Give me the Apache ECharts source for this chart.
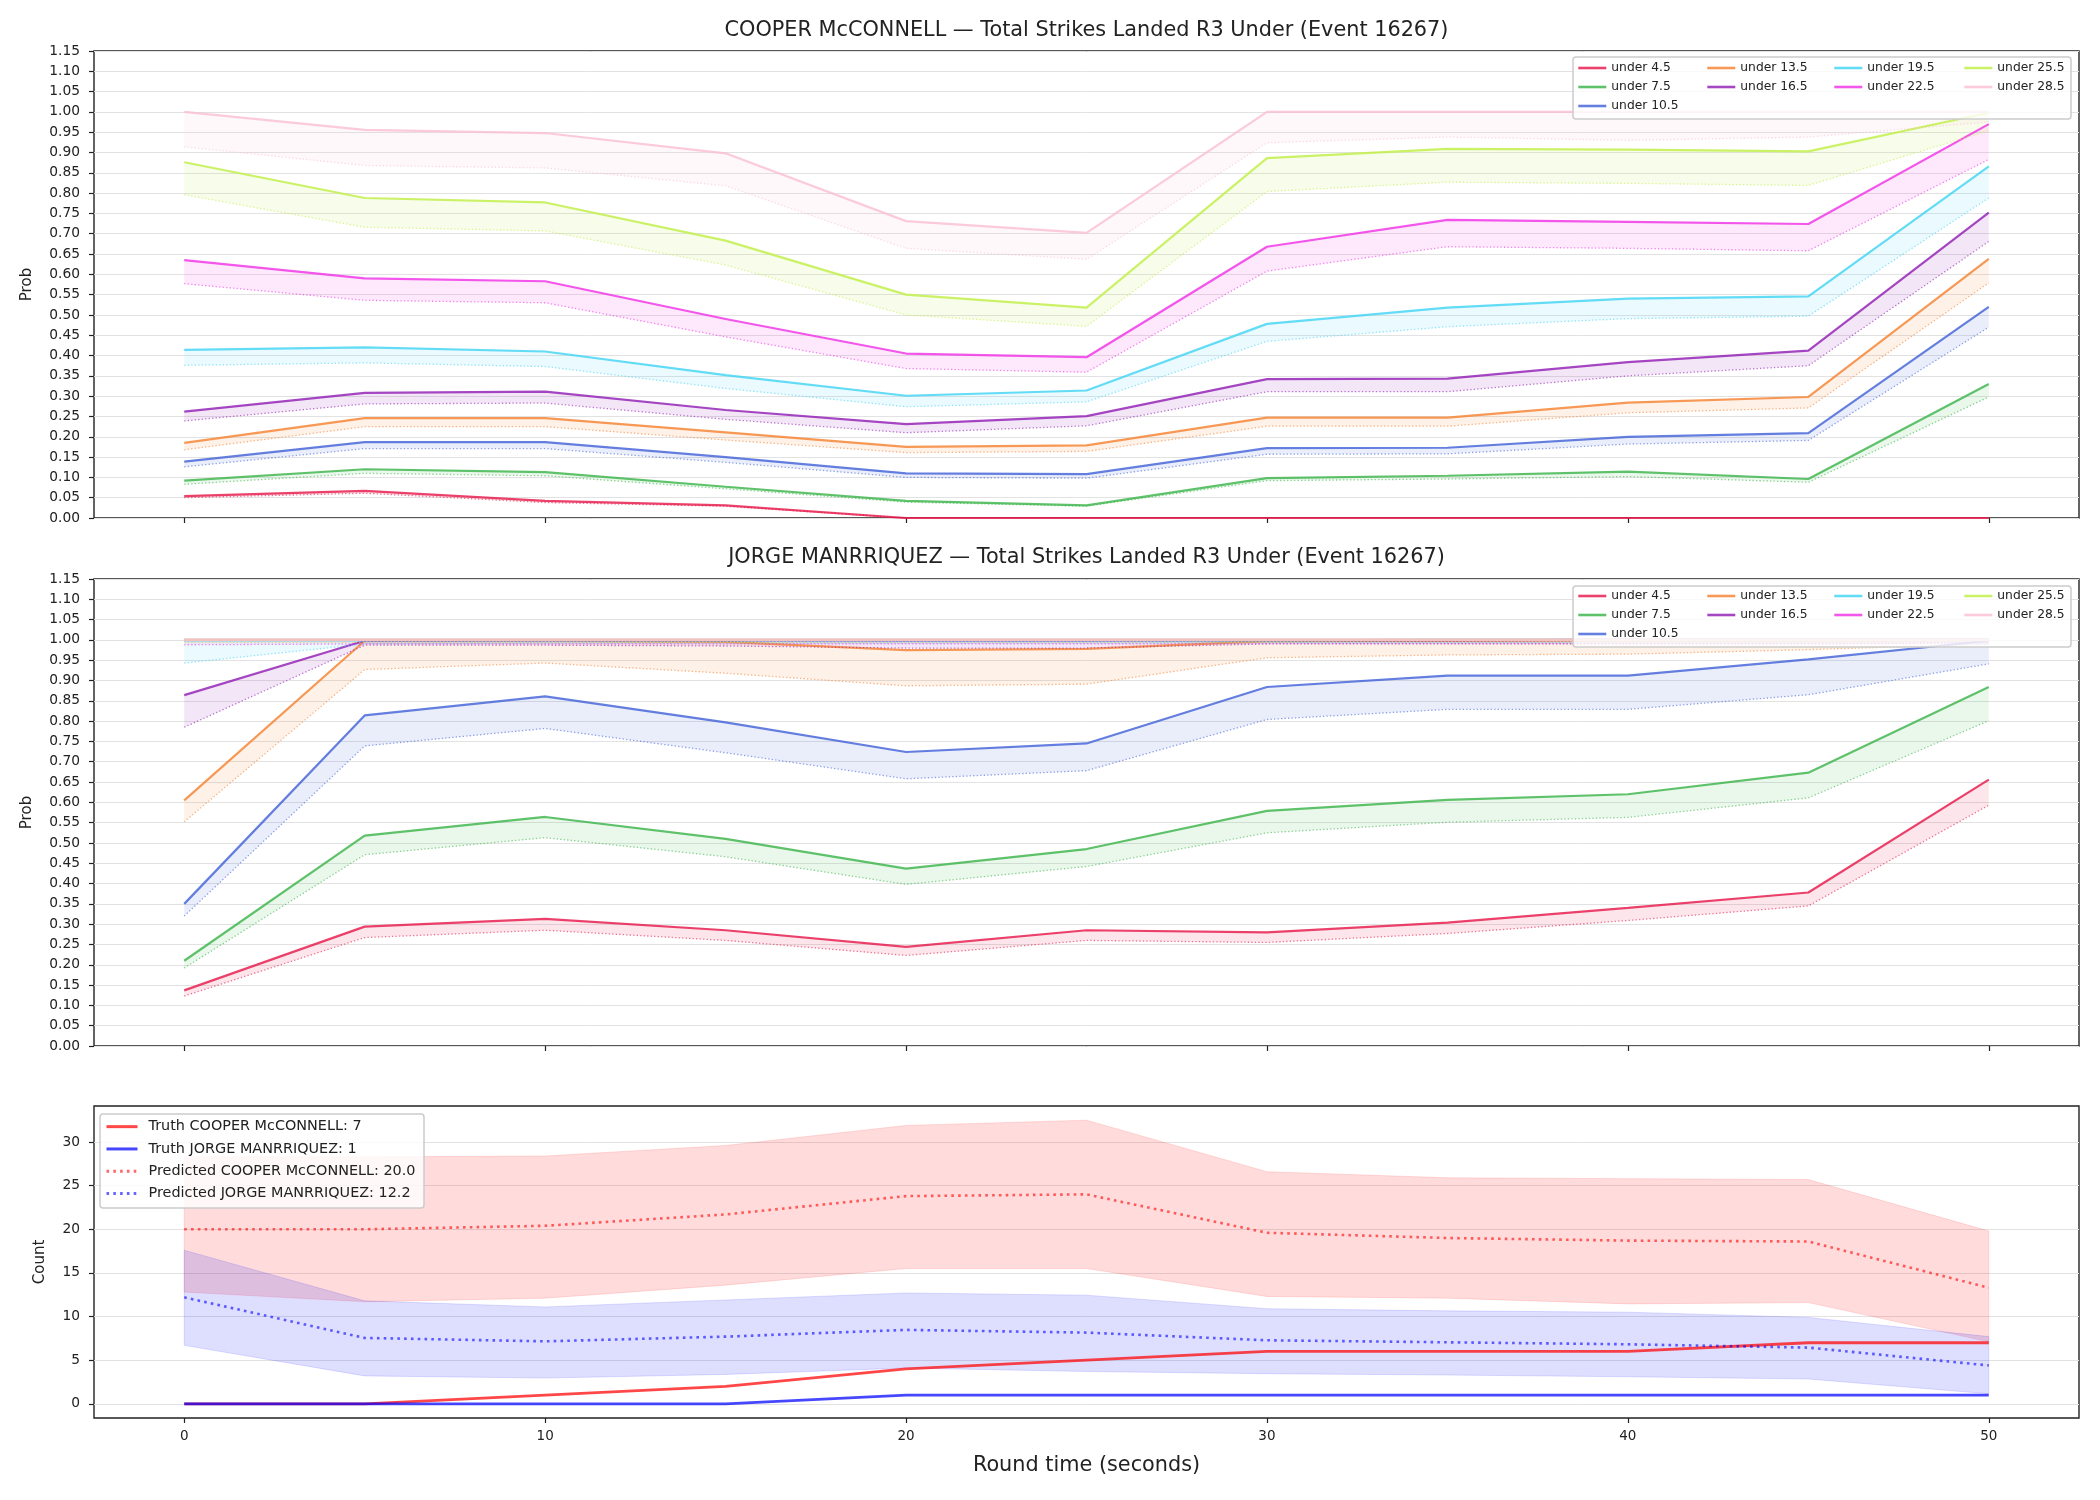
<!DOCTYPE html>
<html>
<head>
<meta charset="utf-8">
<title>Total Strikes Landed R3 Under</title>
<script src="https://cdn.jsdelivr.net/npm/echarts@6.0.0/dist/echarts.min.js"></script>
<style>
    html, body { margin: 0; padding: 0; background: #fff; }
    #chart { width: 2100px; height: 1500px; }
</style>
</head>
<body>
<div id="chart"></div>
<script>
// round time (seconds)
var xs = [0, 5, 10, 15, 20, 25, 30, 35, 40, 45, 50];
var lines = ['under 4.5', 'under 7.5', 'under 10.5', 'under 13.5', 'under 16.5',
    'under 19.5', 'under 22.5', 'under 25.5', 'under 28.5'];
var colors = ['#e6194B', '#3cb44b', '#4363d8', '#f58231', '#911eb4',
    '#42d4f4', '#f032e6', '#bfef45', '#fabed4'];

// COOPER McCONNELL - solid and dotted lines, one row per line
var cooperSolid = [
    [0.054, 0.067, 0.042, 0.031, 0, 0, 0, 0, 0, 0, 0],
    [0.092, 0.120, 0.113, 0.077, 0.042, 0.031, 0.098, 0.104, 0.114, 0.096, 0.330],
    [0.139, 0.187, 0.187, 0.150, 0.110, 0.108, 0.172, 0.173, 0.200, 0.209, 0.520],
    [0.185, 0.246, 0.246, 0.211, 0.175, 0.179, 0.247, 0.247, 0.284, 0.298, 0.638],
    [0.262, 0.308, 0.311, 0.266, 0.231, 0.251, 0.342, 0.343, 0.384, 0.412, 0.752],
    [0.414, 0.420, 0.410, 0.352, 0.301, 0.314, 0.478, 0.518, 0.540, 0.546, 0.866],
    [0.635, 0.590, 0.583, 0.490, 0.405, 0.396, 0.668, 0.734, 0.729, 0.724, 0.970],
    [0.876, 0.788, 0.777, 0.683, 0.550, 0.518, 0.886, 0.909, 0.907, 0.903, 0.998],
    [1.000, 0.956, 0.948, 0.898, 0.731, 0.702, 1.000, 1.000, 1.000, 1.000, 1.000]
];
var cooperDotted = [
    [0.050, 0.061, 0.038, 0.029, 0, 0, 0, 0, 0, 0, 0],
    [0.083, 0.110, 0.104, 0.072, 0.039, 0.029, 0.092, 0.096, 0.102, 0.088, 0.298],
    [0.126, 0.171, 0.171, 0.137, 0.100, 0.098, 0.157, 0.158, 0.182, 0.191, 0.470],
    [0.168, 0.225, 0.225, 0.192, 0.161, 0.164, 0.226, 0.226, 0.259, 0.271, 0.579],
    [0.239, 0.281, 0.283, 0.243, 0.210, 0.227, 0.311, 0.311, 0.350, 0.375, 0.681],
    [0.376, 0.382, 0.373, 0.319, 0.274, 0.286, 0.435, 0.471, 0.491, 0.497, 0.788],
    [0.577, 0.536, 0.530, 0.446, 0.368, 0.359, 0.608, 0.668, 0.664, 0.658, 0.883],
    [0.796, 0.716, 0.707, 0.623, 0.500, 0.472, 0.804, 0.827, 0.824, 0.819, 0.954],
    [0.914, 0.868, 0.862, 0.818, 0.664, 0.637, 0.924, 0.938, 0.930, 0.938, 0.975]
];

// JORGE MANRRIQUEZ
var jorgeSolid = [
    [0.137, 0.294, 0.313, 0.285, 0.244, 0.285, 0.280, 0.304, 0.340, 0.378, 0.656],
    [0.210, 0.518, 0.564, 0.510, 0.437, 0.485, 0.579, 0.606, 0.620, 0.673, 0.884],
    [0.350, 0.814, 0.861, 0.797, 0.724, 0.745, 0.884, 0.912, 0.912, 0.952, 0.998],
    [0.605, 0.998, 0.998, 0.995, 0.975, 0.978, 0.997, 0.998, 0.999, 0.999, 1.000],
    [0.864, 0.998, 0.999, 0.999, 0.998, 0.998, 0.999, 0.999, 1.000, 1.000, 1.000],
    [0.999, 0.999, 0.999, 0.999, 0.999, 0.999, 0.999, 1.000, 1.000, 1.000, 1.000],
    [1.000, 1.000, 1.000, 1.000, 1.000, 1.000, 1.000, 1.000, 1.000, 1.000, 1.000],
    [1.000, 1.000, 1.000, 1.000, 1.000, 1.000, 1.000, 1.000, 1.000, 1.000, 1.000],
    [1.000, 1.000, 1.000, 1.000, 1.000, 1.000, 1.000, 1.000, 1.000, 1.000, 1.000]
];
var jorgeDotted = [
    [0.123, 0.267, 0.285, 0.260, 0.223, 0.260, 0.255, 0.277, 0.309, 0.345, 0.593],
    [0.192, 0.471, 0.513, 0.466, 0.398, 0.442, 0.525, 0.551, 0.563, 0.611, 0.801],
    [0.320, 0.739, 0.782, 0.722, 0.658, 0.678, 0.804, 0.829, 0.829, 0.865, 0.941],
    [0.552, 0.927, 0.943, 0.918, 0.887, 0.891, 0.956, 0.963, 0.965, 0.976, 0.990],
    [0.785, 0.987, 0.987, 0.985, 0.980, 0.980, 0.990, 0.990, 0.990, 0.990, 0.993],
    [0.943, 0.990, 0.992, 0.992, 0.992, 0.992, 0.993, 0.993, 0.993, 0.993, 0.995],
    [0.988, 0.990, 0.990, 0.990, 0.990, 0.990, 0.991, 0.991, 0.991, 0.991, 0.993],
    [0.994, 0.994, 0.994, 0.994, 0.994, 0.994, 0.995, 0.995, 0.995, 0.995, 0.996],
    [0.997, 0.997, 0.997, 0.997, 0.997, 0.997, 0.998, 0.998, 0.998, 0.998, 0.998]
];

// counts panel
var truthCooper = [0, 0, 1, 2, 4, 5, 6, 6, 6, 7, 7];
var truthJorge = [0, 0, 0, 0, 1, 1, 1, 1, 1, 1, 1];
var predCooper = [20.0, 20.0, 20.4, 21.7, 23.8, 24.0, 19.6, 19.0, 18.7, 18.6, 13.3];
var predJorge = [12.2, 7.55, 7.16, 7.7, 8.47, 8.16, 7.28, 7.05, 6.82, 6.44, 4.4];
var cooperLow = [12.8, 11.7, 12.1, 13.6, 15.5, 15.5, 12.3, 12.1, 11.45, 11.6, 7.1];
var cooperHigh = [28.3, 28.3, 28.4, 29.6, 31.9, 32.5, 26.6, 25.9, 25.8, 25.7, 19.8];
var jorgeLow = [6.7, 3.2, 2.95, 3.37, 4.1, 3.7, 3.45, 3.3, 3.1, 2.84, 1.15];
var jorgeHigh = [17.6, 11.8, 11.1, 11.9, 12.7, 12.45, 10.9, 10.65, 10.5, 9.9, 7.7];

var timeTicks = [0, 10, 20, 30, 40, 50];
var countTicks = [0, 5, 10, 15, 20, 25, 30];

var FONT = 'DejaVu Sans';
var INK = '#222';

function pairs(ys) {
    return xs.map(function (x, i) { return [x, ys[i]]; });
}

function rgba(hex, a) {
    var h = hex.replace('#', '');
    var r = parseInt(h.substr(0, 2), 16), g = parseInt(h.substr(2, 2), 16), b = parseInt(h.substr(4, 2), 16);
    return 'rgba(' + r + ',' + g + ',' + b + ',' + a + ')';
}

// filled band between two lines, drawn as one polygon
function band(gi, lo, hi, color, alpha, edge) {
    return {
        type: 'custom',
        xAxisIndex: gi,
        yAxisIndex: gi,
        silent: true,
        clip: true,
        z: 1,
        data: xs.map(function (x, i) { return [x, lo[i], hi[i]]; }),
        encode: { x: 0, y: [1, 2] },
        renderItem: function (params, api) {
            if (params.dataIndex !== 0) return null;
            var pts = [];
            for (var i = 0; i < xs.length; i++) pts.push(api.coord([xs[i], hi[i]]));
            for (var j = xs.length - 1; j >= 0; j--) pts.push(api.coord([xs[j], lo[j]]));
            return {
                type: 'polygon',
                shape: { points: pts },
                style: {
                    fill: rgba(color, alpha),
                    stroke: edge ? rgba(color, edge) : 'none',
                    lineWidth: 1
                }
            };
        }
    };
}

function line(gi, name, ys, color, width, type, opacity) {
    return {
        type: 'line',
        name: name,
        xAxisIndex: gi,
        yAxisIndex: gi,
        data: pairs(ys),
        symbol: 'none',
        showSymbol: false,
        silent: true,
        z: 3,
        itemStyle: { color: color },
        lineStyle: { color: color, width: width, type: type, opacity: opacity }
    };
}

var grids = [
    { left: 94, right: 21, top: 51, height: 467 },
    { left: 94, right: 21, top: 579, height: 467 },
    { left: 94, right: 21, top: 1106, height: 312 }
];
grids.forEach(function (g) {
    g.show = true;
    g.borderColor = INK;
    g.borderWidth = 1.4;
    g.backgroundColor = 'transparent';
});

function xAxis(gi, withLabels) {
    return {
        type: 'value',
        gridIndex: gi,
        min: -2.5,
        max: 52.5,
        axisLine: { show: false, onZero: false },
        splitLine: { show: false },
        axisTick: { show: true, length: 5, customValues: timeTicks, lineStyle: { color: INK, width: 1.2 } },
        axisLabel: {
            show: withLabels, customValues: timeTicks, margin: 11,
            fontFamily: FONT, fontSize: 13.5, color: INK
        },
        name: withLabels ? 'Round time (seconds)' : '',
        nameLocation: 'middle',
        nameGap: 37,
        nameTextStyle: { fontFamily: FONT, fontSize: 20.8, color: INK }
    };
}

function probAxis(gi) {
    return {
        type: 'value',
        gridIndex: gi,
        min: 0,
        max: 1.15,
        interval: 0.05,
        axisLine: { show: false, onZero: false },
        axisTick: { show: true, length: 5, lineStyle: { color: INK, width: 1.2 } },
        splitLine: { show: true, lineStyle: { color: '#e2e2e2', width: 1 } },
        axisLabel: {
            margin: 14, fontFamily: FONT, fontSize: 13.8, color: INK,
            formatter: function (v) { return v.toFixed(2); }
        },
        name: 'Prob',
        nameLocation: 'middle',
        nameGap: 59,
        nameTextStyle: { fontFamily: FONT, fontSize: 15, color: INK }
    };
}

var countAxis = {
    type: 'value',
    gridIndex: 2,
    min: -1.625,
    max: 34.125,
    splitNumber: 7,
    axisLine: { show: false, onZero: false },
    axisTick: { show: true, length: 5, customValues: countTicks, lineStyle: { color: INK, width: 1.2 } },
    splitLine: { show: true, lineStyle: { color: '#e2e2e2', width: 1 } },
    axisLabel: { customValues: countTicks, margin: 14, fontFamily: FONT, fontSize: 13.8, color: INK },
    name: 'Count',
    nameLocation: 'middle',
    nameGap: 46,
    nameTextStyle: { fontFamily: FONT, fontSize: 15, color: INK }
};

var series = [];
[[cooperSolid, cooperDotted], [jorgeSolid, jorgeDotted]].forEach(function (pair, gi) {
    for (var k = 0; k < lines.length; k++) {
        series.push(band(gi, pair[1][k], pair[0][k], colors[k], 0.11, 0));
    }
    for (var k2 = 0; k2 < lines.length; k2++) {
        series.push(line(gi, lines[k2], pair[0][k2], colors[k2], 2.2, 'solid', 0.82));
        series.push(line(gi, '_' + lines[k2], pair[1][k2], colors[k2], 1.3, [1.3, 2.2], 0.6));
    }
});

series.push(band(2, cooperLow, cooperHigh, '#ff0000', 0.14, 0.12));
series.push(band(2, jorgeLow, jorgeHigh, '#0000ff', 0.13, 0.12));
series.push(line(2, 'Truth COOPER McCONNELL: 7', truthCooper, '#ff0000', 2.8, 'solid', 0.72));
series.push(line(2, 'Truth JORGE MANRRIQUEZ: 1', truthJorge, '#0000ff', 2.8, 'solid', 0.72));
series.push(line(2, 'Predicted COOPER McCONNELL: 20.0', predCooper, '#ff0000', 2.6, [2.6, 4.2], 0.6));
series.push(line(2, 'Predicted JORGE MANRRIQUEZ: 12.2', predJorge, '#0000ff', 2.6, [2.6, 4.2], 0.6));

// legends: four columns per probability panel
var legendCols = [[0, 1, 2], [3, 4], [5, 6], [7, 8]];
var colLeft = [1577, 1706, 1833, 1963];
var legends = [];
[60.5, 588.5].forEach(function (top) {
    legendCols.forEach(function (col, c) {
        legends.push({
            orient: 'vertical',
            left: colLeft[c],
            top: top,
            padding: 0,
            itemGap: 4,
            itemWidth: 28,
            itemHeight: 12,
            z: 20,
            selectedMode: false,
            itemStyle: { opacity: 0 },
            lineStyle: { width: 2.6 },
            textStyle: { fontFamily: FONT, fontSize: 12.3, lineHeight: 15, color: INK },
            data: col.map(function (i) { return lines[i]; })
        });
    });
});
legends.push({
    orient: 'vertical',
    left: 105,
    top: 1118,
    padding: 0,
    itemGap: 5,
    itemWidth: 31,
    itemHeight: 14,
    z: 20,
    selectedMode: false,
    itemStyle: { opacity: 0 },
    lineStyle: { width: 3 },
    textStyle: { fontFamily: FONT, fontSize: 14.4, lineHeight: 17.3, color: INK, padding: [0, 0, 0, 6] },
    data: ['Truth COOPER McCONNELL: 7', 'Truth JORGE MANRRIQUEZ: 1',
        'Predicted COOPER McCONNELL: 20.0', 'Predicted JORGE MANRRIQUEZ: 12.2']
});

function legendBox(x, y, w, h) {
    return {
        type: 'rect',
        z: 10,
        silent: true,
        shape: { x: x, y: y, width: w, height: h, r: 3 },
        style: { fill: 'rgba(255,255,255,0.8)', stroke: '#cccccc', lineWidth: 1.5 }
    };
}

function titleText(text, y) {
    return {
        type: 'text',
        z: 10,
        x: 1086.5,
        y: y,
        style: {
            text: text, fontFamily: FONT, fontSize: 20.8, fill: INK,
            align: 'center', verticalAlign: 'middle',
            textAlign: 'center', textVerticalAlign: 'middle'
        }
    };
}

var chart = echarts.init(document.getElementById('chart'), null, { renderer: 'canvas' });
chart.setOption({
    animation: false,
    backgroundColor: '#ffffff',
    grid: grids,
    xAxis: [xAxis(0, false), xAxis(1, false), xAxis(2, true)],
    yAxis: [probAxis(0), probAxis(1), countAxis],
    legend: legends,
    graphic: [
        titleText('COOPER McCONNELL \u2014 Total Strikes Landed R3 Under (Event 16267)', 31),
        titleText('JORGE MANRRIQUEZ \u2014 Total Strikes Landed R3 Under (Event 16267)', 558),
        legendBox(1573, 57, 498, 62),
        legendBox(1573, 586, 498, 61),
        legendBox(100, 1114, 324, 94)
    ],
    series: series
});
</script>
</body>
</html>
